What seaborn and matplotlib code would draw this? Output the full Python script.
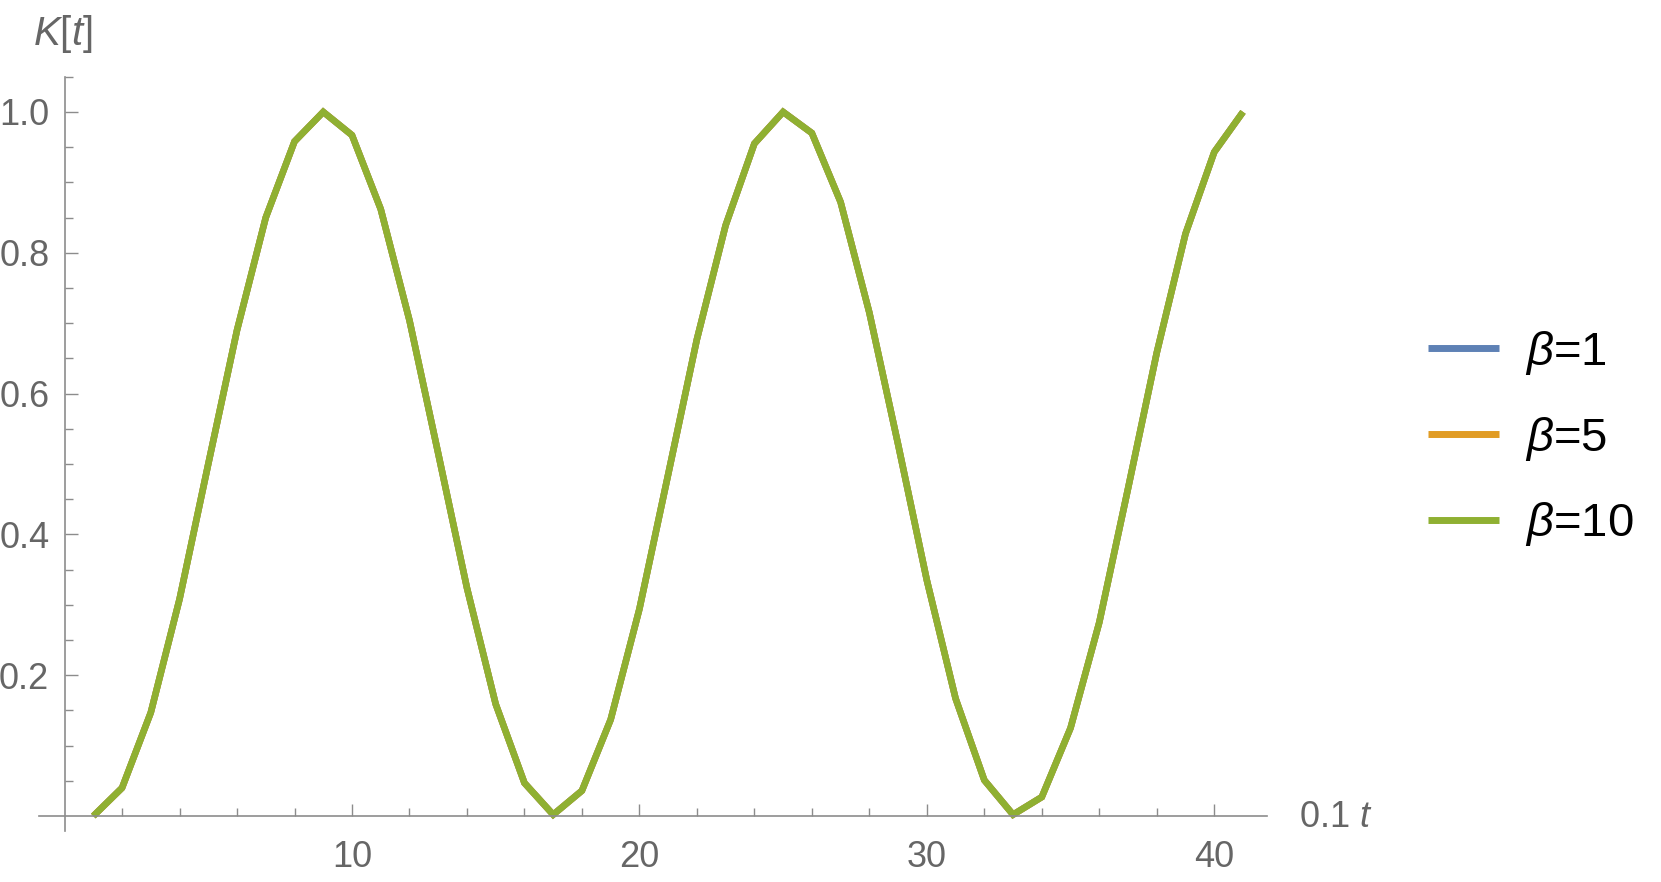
import pandas as pd
import matplotlib.pyplot as plt
import seaborn as sns

# K[t], t in steps of 0.1 (index 1..41)
steps = list(range(1, 42))
k_beta1 = [0.0, 0.04, 0.147, 0.308, 0.5, 0.69, 0.85, 0.958, 1.0, 0.967,
           0.862, 0.704, 0.515, 0.324, 0.159, 0.047, 0.002, 0.036, 0.137, 0.294,
           0.485, 0.677, 0.839, 0.955, 1.0, 0.97, 0.872, 0.715, 0.528, 0.335,
           0.167, 0.051, 0.002, 0.027, 0.125, 0.275, 0.465, 0.658, 0.827, 0.943,
           1.0]
k_beta5 = [0.0, 0.04, 0.147, 0.308, 0.5, 0.69, 0.85, 0.958, 1.0, 0.967,
           0.862, 0.704, 0.515, 0.324, 0.159, 0.047, 0.002, 0.036, 0.137, 0.294,
           0.485, 0.677, 0.839, 0.955, 1.0, 0.97, 0.872, 0.715, 0.528, 0.335,
           0.167, 0.051, 0.002, 0.027, 0.125, 0.275, 0.465, 0.658, 0.827, 0.943,
           1.0]
k_beta10 = [0.0, 0.04, 0.147, 0.308, 0.5, 0.69, 0.85, 0.958, 1.0, 0.967,
            0.862, 0.704, 0.515, 0.324, 0.159, 0.047, 0.002, 0.036, 0.137, 0.294,
            0.485, 0.677, 0.839, 0.955, 1.0, 0.97, 0.872, 0.715, 0.528, 0.335,
            0.167, 0.051, 0.002, 0.027, 0.125, 0.275, 0.465, 0.658, 0.827, 0.943,
            1.0]
betas = ["1", "5", "10"]
colors = ["#5E81B5", "#E19C24", "#8FB032"]
x_ticks = [10, 20, 30, 40]
y_ticks = [0.2, 0.4, 0.6, 0.8, 1.0]

sns.set_style("white")
plt.rcParams["font.family"] = ["Liberation Sans", "DejaVu Sans"]
plt.rcParams["mathtext.fontset"] = "custom"
plt.rcParams["mathtext.it"] = "Liberation Sans:italic"
plt.rcParams["mathtext.rm"] = "Liberation Sans"

frames = []
for b, vals in zip(betas, [k_beta1, k_beta5, k_beta10]):
    frames.append(pd.DataFrame({"step": steps, "K": vals, "beta": b}))
df = pd.concat(frames, ignore_index=True)

fig = plt.figure(figsize=(16.61, 8.82), dpi=100)
ax = fig.add_axes([0.0233, 0.058, 0.7394, 0.855])

sns.lineplot(data=df, x="step", y="K", hue="beta", hue_order=betas,
             palette=colors, linewidth=4.7, ax=ax, legend=False,
             solid_capstyle="butt", solid_joinstyle="miter")

ax.set_xlim(-0.9, 41.83)
ax.set_ylim(-0.021, 1.05)

gray = "#8c8c8c"
for side in ["top", "right"]:
    ax.spines[side].set_visible(False)
ax.spines["left"].set_position(("data", 0))
ax.spines["bottom"].set_position(("data", 0))
for side in ["left", "bottom"]:
    ax.spines[side].set_color(gray)
    ax.spines[side].set_linewidth(1.2)

ax.set_xticks(x_ticks)
ax.set_xticks(range(2, 42, 2), minor=True)
ax.set_yticks(y_ticks)
ax.set_yticks([i * 0.05 for i in range(1, 22)], minor=True)
ax.set_xticklabels([str(v) for v in x_ticks])
ax.set_yticklabels([f"{v:.1f}" for v in y_ticks])
ax.tick_params(bottom=True, left=True, which="both")
ax.tick_params(which="major", direction="in", length=9, width=1.0, color=gray,
               labelsize=26, labelcolor="#666666")
ax.tick_params(which="minor", direction="in", length=5.5, width=1.0, color=gray)
ax.tick_params(axis="y", which="major", pad=11)
ax.tick_params(axis="x", which="major", pad=17)
ax.set_xlabel("")
ax.set_ylabel("")

fig.text(0.020, 0.962, r"$K$[$t$]", fontsize=29, color="#666666", va="center", ha="left")
fig.text(0.782, 0.073, r"0.1 $t$", fontsize=26, color="#666666", va="center", ha="left")

handles = [plt.Line2D([], [], color=c, linewidth=5.0, solid_capstyle="butt")
           for c in colors]
labels = [rf"$\beta$={b}" for b in betas]
fig.legend(handles, labels, loc="center left", bbox_to_anchor=(0.8597, 0.5027),
           frameon=False, fontsize=34, handlelength=1.5, handletextpad=0.56,
           labelspacing=0.8, borderaxespad=0, borderpad=0, labelcolor="black")

fig.savefig("out.png", dpi=100)
